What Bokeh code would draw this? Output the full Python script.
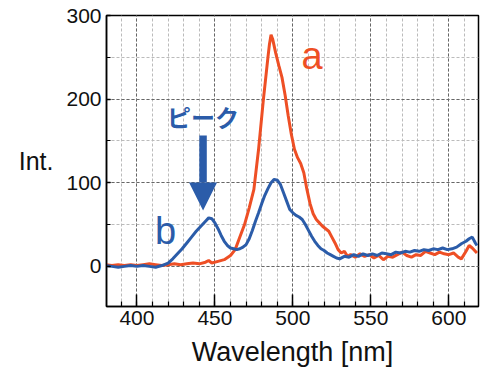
from bokeh.plotting import figure
from bokeh.models import (Range1d, SingleIntervalTicker, Label, Arrow, NormalHead)
from bokeh.embed import file_html
from bokeh.resources import INLINE

# ---- data ----
wl_a = [380, 384, 388, 392, 396, 400, 404, 408, 412, 416, 420, 424, 428, 432, 436, 440,
        444, 446, 448, 452, 456, 460, 463, 466, 469, 472, 475, 478, 481, 484, 485, 486,
        487, 489, 491, 493, 495, 497, 499, 501, 503, 505, 507, 509, 511, 513, 515, 517,
        519, 521, 523, 525, 527, 529, 531, 533, 535, 537, 540, 543, 546, 549, 552, 555,
        558, 561, 564, 567, 570, 573, 576, 579, 582, 585, 588, 591, 594, 597, 600, 603,
        606, 608, 611, 613, 615, 618]
int_a = [2, 1, 2, 1, 2, 1, 2, 3, 2, 1, 2, 3, 2, 3, 4, 3,
         5, 7, 4, 6, 8, 13, 20, 35, 50, 70, 92, 140, 198, 250, 266, 277,
         272, 255, 240, 226, 205, 180, 158, 140, 130, 123, 112, 92, 75, 63, 56, 52,
         48, 45, 42, 35, 28, 20, 16, 18, 12, 14, 11, 15, 12, 14, 10, 13,
         8, 12, 11, 14, 17, 13, 11, 14, 13, 18, 16, 14, 17, 15, 14, 16,
         11, 9, 18, 25, 22, 16]

wl_b = [380, 384, 388, 392, 396, 400, 404, 408, 412, 416, 420, 423, 426, 429, 432, 435,
        438, 441, 444, 446, 448, 450, 452, 454, 456, 458, 460, 462, 464, 466, 468, 470,
        472, 474, 476, 478, 480, 482, 484, 486, 488, 490, 492, 494, 496, 498, 500, 502,
        504, 506, 508, 510, 512, 514, 516, 518, 520, 522, 524, 526, 528, 530, 533, 536,
        539, 542, 545, 548, 551, 554, 557, 560, 563, 566, 569, 572, 575, 578, 581, 584,
        587, 590, 593, 596, 599, 602, 605, 608, 611, 613, 615, 617, 618]
int_b = [1, 0, -1, 0, 1, 0, 1, 0, -1, 1, 4, 9, 15, 21, 28, 35,
         42, 48, 54, 58, 57, 52, 45, 37, 30, 25, 22, 21, 20, 21, 23, 26,
         33, 43, 54, 64, 75, 85, 93, 100, 104, 103, 98, 88, 78, 68, 64, 61,
         59, 56, 50, 43, 36, 30, 25, 21, 19, 16, 14, 12, 10, 9, 12, 11,
         14, 12, 15, 13, 15, 13, 16, 15, 14, 17, 16, 18, 17, 19, 18, 20,
         19, 21, 20, 22, 20, 21, 23, 27, 30, 33, 35, 28, 25]

x_label = "Wavelength [nm]"
y_label = "Int."
label_a = "a"
label_b = "b"
peak_text = "ピーク"

RED = "#EE4F25"
BLUE = "#2B5CA9"
FONT = "Liberation Sans"

p = figure(width=500, height=375, output_backend="svg", toolbar_location=None,
           x_range=Range1d(380.5, 619), y_range=Range1d(-48, 300),
           min_border_left=106, min_border_right=22, min_border_top=15,
           min_border_bottom=69)
p.background_fill_color = "white"
p.border_fill_color = "white"
p.outline_line_color = "black"
p.outline_line_width = 1.5
p.outline_line_alpha = 1.0

# axes
p.xaxis.ticker = SingleIntervalTicker(interval=50, num_minor_ticks=5)
p.yaxis.ticker = SingleIntervalTicker(interval=100, num_minor_ticks=2)
for ax in (p.xaxis[0], p.yaxis[0]):
    ax.axis_line_color = "black"
    ax.axis_line_width = 1.5
    ax.major_tick_line_color = "black"
    ax.minor_tick_line_color = "black"
    ax.major_tick_line_width = 1.5
    ax.minor_tick_line_width = 1.2
    ax.major_tick_out = 0
    ax.minor_tick_out = 0
    ax.major_label_text_font = FONT
    ax.major_label_text_font_size = "21px"
    ax.major_label_text_color = "#111111"
    ax.axis_label_text_font = FONT
    ax.axis_label_text_font_style = "normal"
    ax.axis_label_text_color = "#111111"
p.xaxis.major_tick_in = 12
p.xaxis.minor_tick_in = 5
p.yaxis.major_tick_in = 4
p.yaxis.minor_tick_in = 4
p.xaxis.major_label_standoff = 4
p.yaxis.major_label_standoff = 5

p.xaxis.axis_label = x_label
p.xaxis.axis_label_text_font_size = "27px"
p.xaxis.axis_label_standoff = 9

p.yaxis.axis_label = y_label
p.yaxis.axis_label_text_font_size = "25px"
p.yaxis.axis_label_standoff = 10
p.yaxis.axis_label_orientation = "horizontal"

# grids
for g in (p.xgrid[0], p.ygrid[0]):
    g.grid_line_color = "#666666"
    g.grid_line_dash = "3 2"
    g.grid_line_width = 1
    g.minor_grid_line_color = "#bbbbbb"
    g.minor_grid_line_dash = "3 2"
    g.minor_grid_line_width = 1

# curves
p.line(wl_a, int_a, line_color=RED, line_width=3)
p.line(wl_b, int_b, line_color=BLUE, line_width=3)

# arrow
p.add_layout(Arrow(end=NormalHead(size=28, fill_color=BLUE, line_color=BLUE, line_width=0),
                   x_start=442.4, y_start=156.5, x_end=442.4, y_end=66.7,
                   line_color=BLUE, line_width=7.5))

# texts
p.add_layout(Label(x=505.5, y=252, text=label_a, text_color=RED, text_font=FONT,
                   text_font_size="38px", text_baseline="alphabetic", text_align="left"))
p.add_layout(Label(x=411.6, y=42.8, text=label_b, text_color=BLUE, text_font=FONT,
                   text_font_size="38px", text_baseline="alphabetic", text_align="left"))
p.add_layout(Label(x=442.4, y=179, text=peak_text, text_color=BLUE,
                   text_font="Noto Sans CJK JP", text_font_style="bold",
                   text_font_size="24px", text_baseline="middle", text_align="center"))

open("out.html", "w").write(file_html(p, INLINE))
